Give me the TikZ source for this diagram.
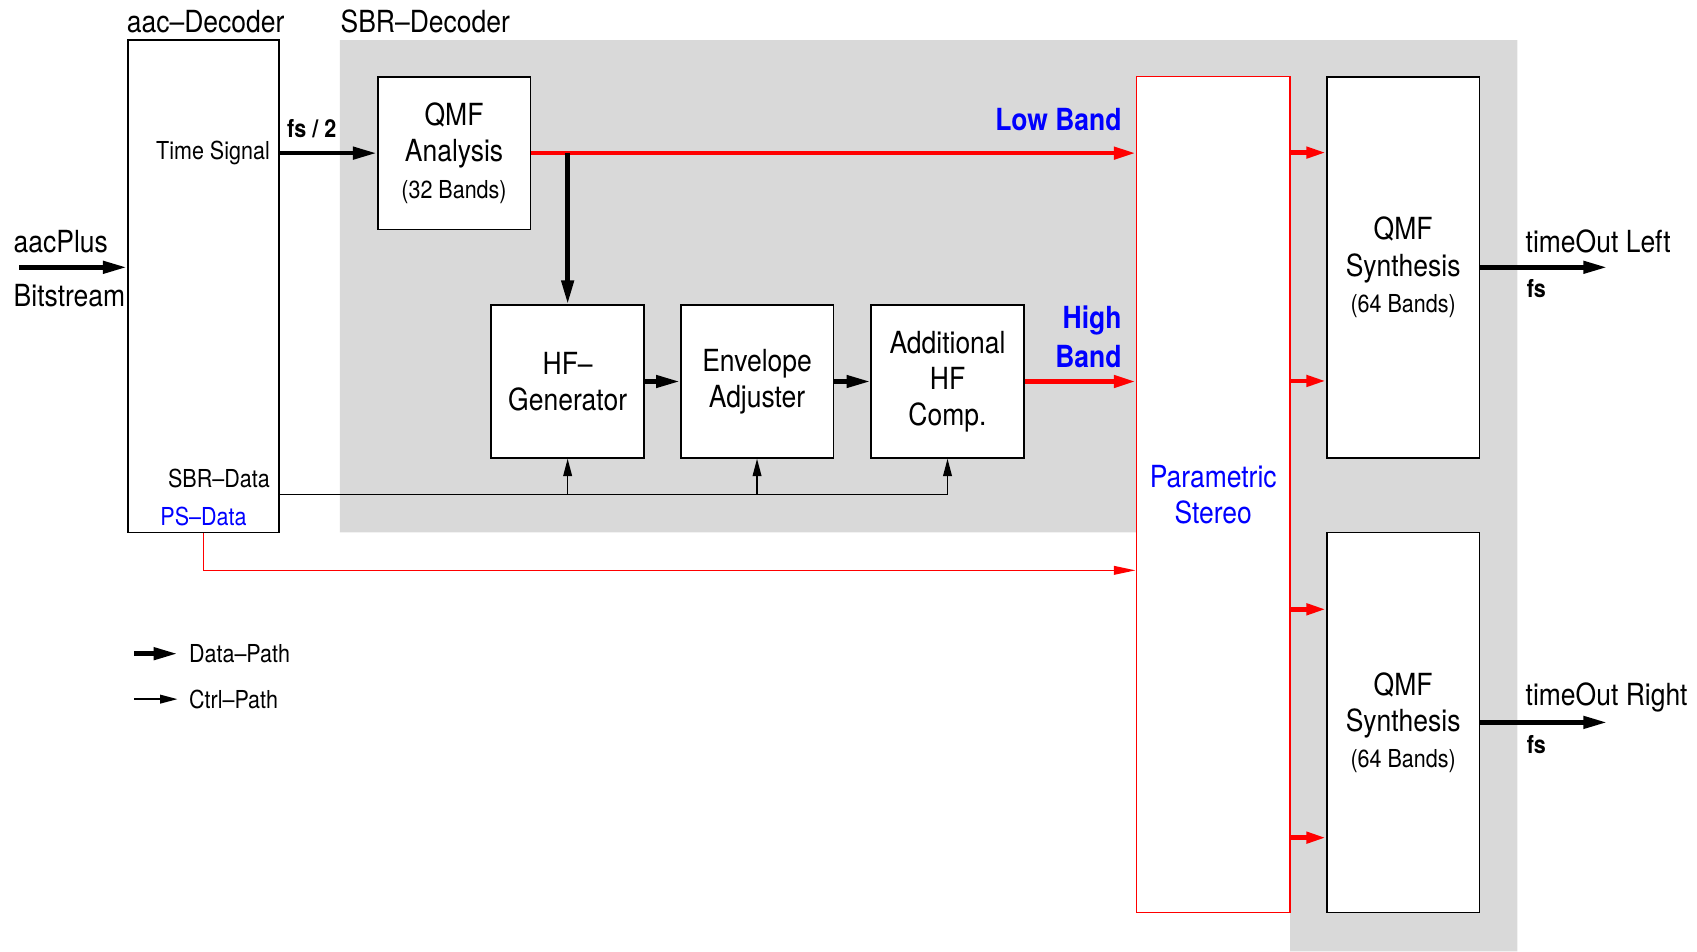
\documentclass[tikz,border=0pt]{standalone}
\usepackage{fontspec}
\setmainfont{TeX Gyre Heros}[FakeStretch=0.87]
\usetikzlibrary{arrows.meta,calc,positioning}
\definecolor{sbrgray}{RGB}{217,217,217}

\begin{document}
\begin{tikzpicture}[x=0.01cm, y=-0.01cm,
    blk/.style={draw, line width=0.45pt, fill=white, align=center, inner sep=0pt,
                font=\fontsize{8}{9.5}\selectfont},
    lbl/.style={font=\fontsize{6.5}{8}\selectfont, inner sep=0pt},
    biglbl/.style={font=\fontsize{8}{9.5}\selectfont, inner sep=0pt},
    bandlbl/.style={font=\fontsize{8}{10.2}\selectfont\bfseries, text=blue, inner sep=0pt, align=right},
    data/.style={line width=1.2pt, -{Triangle[length=0.22cm,width=0.11cm]}},
    hot/.style={red, line width=1.2pt, -{Triangle[length=0.2cm,width=0.11cm]}},
    ctrl/.style={line width=0.4pt, -{Triangle[length=0.16cm,width=0.08cm]}}]

\useasboundingbox (0,0) rectangle (1568,879);

% SBR area
\fill[sbrgray] (314,37) -- (1402,37) -- (1402,879) -- (1192,879) -- (1192,492) -- (314,492) -- cycle;

\node[blk, minimum width=1.40cm, minimum height=4.55cm] (aac) at (188,264.5) {};
\node[biglbl] (aacttl) at (190,20) {aac–Decoder};
\node[biglbl, anchor=west] (sbrttl) at (314,20) {SBR–Decoder};

\node[lbl, anchor=east] (tsig) at (250,141) {Time Signal};
\node[lbl, anchor=east] (sbrd) at (250,442) {SBR–Data};
\node[lbl, text=blue] (psd) at (188,477) {PS–Data};

\node[blk, minimum width=1.41cm, minimum height=1.41cm] (qmfa) at (419.5,141.5)
  {QMF\\Analysis\\{\fontsize{6.5}{9.5}\selectfont (32 Bands)}};
\node[blk, minimum width=1.41cm, minimum height=1.41cm] (hfg) at (524.5,352.5) {HF–\\Generator};
\node[blk, minimum width=1.41cm, minimum height=1.41cm] (env) at (699.5,352.5) {Envelope\\Adjuster};
\node[blk, minimum width=1.41cm, minimum height=1.41cm] (ahf) at (875.5,352.5) {Additional\\HF\\Comp.};

\node[blk, draw=red, line width=0.4pt, text=blue, minimum width=1.42cm, minimum height=7.72cm] (ps) at (1121,457)
  {Parametric\\Stereo};
\node[blk, minimum width=1.41cm, minimum height=3.52cm] (synl) at (1296.5,247)
  {QMF\\Synthesis\\{\fontsize{6.5}{9.5}\selectfont (64 Bands)}};
\node[blk, minimum width=1.41cm, minimum height=3.51cm] (synr) at (1296.5,667.5)
  {QMF\\Synthesis\\{\fontsize{6.5}{9.5}\selectfont (64 Bands)}};

\node[bandlbl, anchor=east] (lowb) at (1037,110) {Low Band};
\node[bandlbl, anchor=east] (highb) at (1037,311) {High\\Band};
\node[lbl, font=\fontsize{6.5}{8}\selectfont\bfseries] (fshalf) at (288,119) {fs / 2};

\node[biglbl, anchor=west] (aacp) at (12,223) {aacPlus};
\node[biglbl, anchor=west] (bits) at (12,273) {Bitstream};
\node[biglbl, anchor=west] (toutl) at (1409,223) {timeOut Left};
\node[lbl, font=\fontsize{6.5}{8}\selectfont\bfseries, anchor=west] (fsl) at (1410,267) {fs};
\node[biglbl, anchor=west] (toutr) at (1409,644) {timeOut Right};
\node[lbl, font=\fontsize{6.5}{8}\selectfont\bfseries, anchor=west] (fsr) at (1410,688) {fs};

\coordinate (bsin) at (18,247);
\coordinate (outl) at (1485,247);
\coordinate (outr) at (1485,668);
\coordinate (psbend) at (188,527);

% data path
\draw[data] (bsin) -- (bsin -| aac.west);
\draw[data] (aac.east |- qmfa.west) -- (qmfa.west);
\draw[hot] (qmfa.east) -- (qmfa.east -| ps.west);
\draw[data] (hfg.north |- qmfa.east) -- (hfg.north);
\draw[data] (hfg.east) -- (env.west);
\draw[data] (env.east) -- (ahf.west);
\draw[hot] (ahf.east) -- (ahf.east -| ps.west);
\foreach \y/\n in {141/synl, 352/synl, 563/synr, 774/synr}
  \draw[hot, -{Triangle[length=0.18cm,width=0.1cm]}] (ps.east |- 0,\y) -- (\n.west |- 0,\y);
\draw[data] (synl.east) -- (synl.east -| outl);
\draw[data] (synr.east) -- (synr.east -| outr);

% ctrl path
\draw[line width=0.4pt] (aac.east |- 0,457) -- (ahf.south |- 0,457);
\foreach \n in {hfg,env,ahf}
  \draw[ctrl] (\n.south |- 0,457) -- (\n.south);
\draw[red, line width=0.4pt, -{Triangle[length=0.2cm,width=0.08cm]}] (aac.south) -- (psbend) -- (psbend -| ps.west);

% legend
\node[lbl, anchor=west] (lgdata) at (174,604) {Data–Path};
\node[lbl, anchor=west] (lgctrl) at (174,646) {Ctrl–Path};
\draw[data] ([xshift=-0.5cm]lgdata.west) -- ([xshift=-0.1cm]lgdata.west);
\draw[ctrl] ([xshift=-0.5cm]lgctrl.west) -- ([xshift=-0.1cm]lgctrl.west);

\end{tikzpicture}
\end{document}
